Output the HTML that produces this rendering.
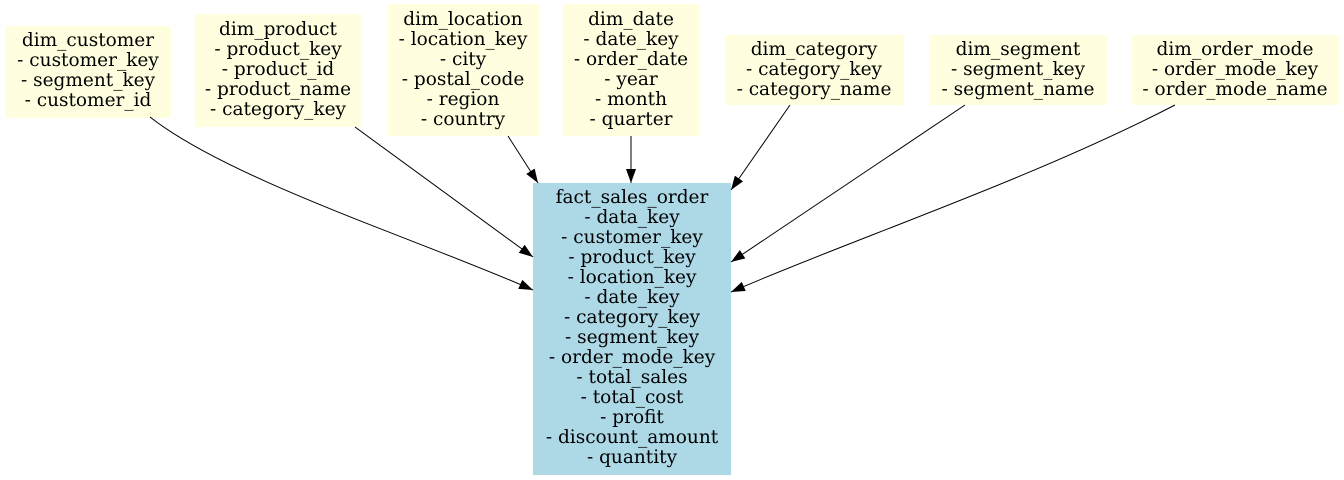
<!DOCTYPE html>
<html><head><meta charset="utf-8"><style>
body{margin:0;background:#fff;}
svg{display:block;font-family:"DejaVu Serif","Liberation Serif",serif;font-size:18.5px;}
</style></head><body>
<svg width="1344" height="480" viewBox="0 0 1344 480" xmlns="http://www.w3.org/2000/svg">
<defs><marker id="a" markerWidth="14" markerHeight="10" refX="14" refY="5" orient="auto" markerUnits="userSpaceOnUse"><path d="M0,0 L14,5 L0,10 z" fill="#000"/></marker></defs>
<g fill="#ffffe0">
<rect x="5" y="26" width="166" height="92"/>
<rect x="195" y="14" width="167" height="113"/>
<rect x="388" y="4" width="151" height="132"/>
<rect x="563" y="4" width="137" height="132"/>
<rect x="725" y="35" width="179" height="70"/>
<rect x="929" y="35" width="178" height="70"/>
<rect x="1132" y="35" width="207" height="70"/>
</g>
<rect x="533" y="183" width="198" height="292" fill="#add8e6"/>
<g stroke="#000" stroke-width="1" fill="none" marker-end="url(#a)">
<path d="M150,117 C230,180 420,240 533,290"/>
<path d="M355,127 L533,257"/>
<path d="M508,136 L538,183"/>
<path d="M631,136 L631,183"/>
<path d="M790,105 L731,190"/>
<path d="M965,105 L731,262"/>
<path d="M1175,105 C1030,180 850,240 731,292"/>
</g>
<g text-anchor="middle" fill="#000">
<text x="88" y="46">dim_customer<tspan x="88" dy="20">- customer_key</tspan><tspan x="88" dy="20">- segment_key</tspan><tspan x="88" dy="20">- customer_id</tspan></text>
<text x="278" y="35">dim_product<tspan x="278" dy="20">- product_key</tspan><tspan x="278" dy="20">- product_id</tspan><tspan x="278" dy="20">- product_name</tspan><tspan x="278" dy="20">- category_key</tspan></text>
<text x="463" y="25">dim_location<tspan x="463" dy="20">- location_key</tspan><tspan x="463" dy="20">- city</tspan><tspan x="463" dy="20">- postal_code</tspan><tspan x="463" dy="20">- region</tspan><tspan x="463" dy="20">- country</tspan></text>
<text x="631" y="25">dim_date<tspan x="631" dy="20">- date_key</tspan><tspan x="631" dy="20">- order_date</tspan><tspan x="631" dy="20">- year</tspan><tspan x="631" dy="20">- month</tspan><tspan x="631" dy="20">- quarter</tspan></text>
<text x="814" y="55">dim_category<tspan x="814" dy="20">- category_key</tspan><tspan x="814" dy="20">- category_name</tspan></text>
<text x="1018" y="55">dim_segment<tspan x="1018" dy="20">- segment_key</tspan><tspan x="1018" dy="20">- segment_name</tspan></text>
<text x="1235" y="55">dim_order_mode<tspan x="1235" dy="20">- order_mode_key</tspan><tspan x="1235" dy="20">- order_mode_name</tspan></text>
<text x="632" y="203">fact_sales_order<tspan x="632" dy="20">- data_key</tspan><tspan x="632" dy="20">- customer_key</tspan><tspan x="632" dy="20">- product_key</tspan><tspan x="632" dy="20">- location_key</tspan><tspan x="632" dy="20">- date_key</tspan><tspan x="632" dy="20">- category_key</tspan><tspan x="632" dy="20">- segment_key</tspan><tspan x="632" dy="20">- order_mode_key</tspan><tspan x="632" dy="20">- total_sales</tspan><tspan x="632" dy="20">- total_cost</tspan><tspan x="632" dy="20">- profit</tspan><tspan x="632" dy="20">- discount_amount</tspan><tspan x="632" dy="20">- quantity</tspan></text>
</g>
</svg>
</body></html>
